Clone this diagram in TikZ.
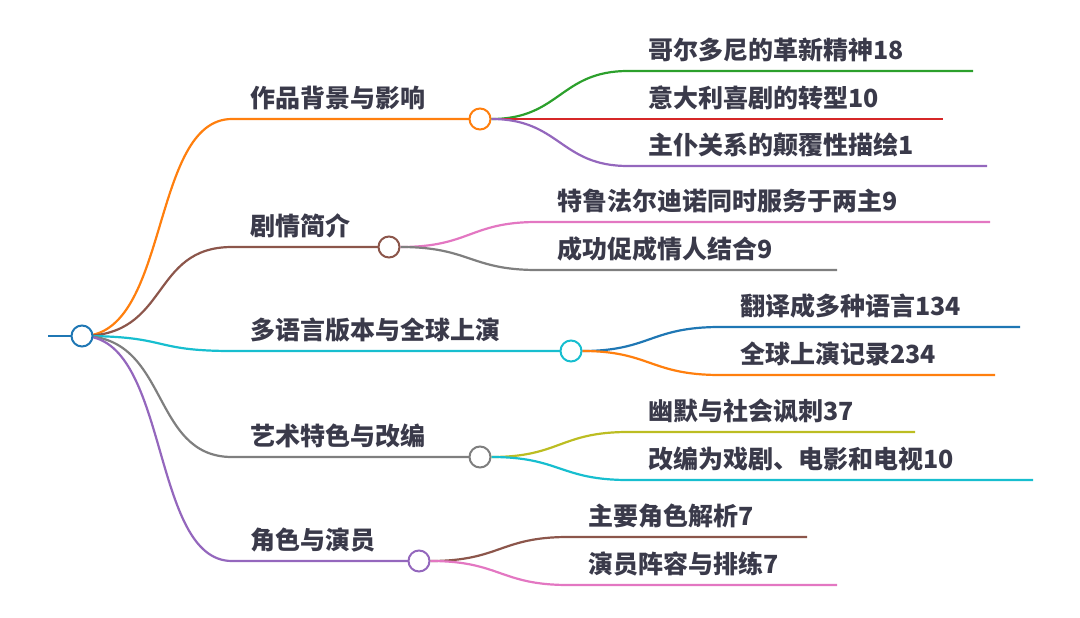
\documentclass[tikz,border=0pt]{standalone}
\usepackage{fontspec}
\setmainfont{Noto Sans CJK SC}[BoldFont={* Black}]
\usetikzlibrary{positioning}
\definecolor{tblue}{HTML}{1F77B4}
\definecolor{torange}{HTML}{FF7F0E}
\definecolor{tgreen}{HTML}{2CA02C}
\definecolor{tred}{HTML}{D62728}
\definecolor{tpurple}{HTML}{9467BD}
\definecolor{tbrown}{HTML}{8C564B}
\definecolor{tpink}{HTML}{E377C2}
\definecolor{tgray}{HTML}{7F7F7F}
\definecolor{tolive}{HTML}{BCBD22}
\definecolor{tcyan}{HTML}{17BECF}
\definecolor{txt}{HTML}{3A3A4A}
\tikzstyle{hub} = [circle, draw, fill=white, line width=2pt, minimum size=21pt, inner sep=0pt]
\tikzstyle{topic} = [anchor=south west, inner sep=0pt, text=txt, font=\bfseries\fontsize{25}{27}\selectfont]
\tikzstyle{edge} = [line width=2.2pt]

\begin{document}
\begin{tikzpicture}[x=1pt, y=-1pt]
    \useasboundingbox (0,0) rectangle (1080,618);
    % root
    \coordinate (in) at (48,336);
    \draw [edge, tblue] (in) -- (82,336);

    % first level
    \coordinate (s1) at (232,119);
    \coordinate (s2) at (232,247);
    \coordinate (s3) at (232,351);
    \coordinate (s4) at (232,457);
    \coordinate (s5) at (232,561);
    \draw [edge, torange] (82,336) .. controls (170,336) and (150,119) .. (s1) -- (480,119);
    \draw [edge, tbrown] (82,336) .. controls (170,336) and (150,247) .. (s2) -- (389,247);
    \draw [edge, tcyan] (82,336) .. controls (170,336) and (150,351) .. (s3) -- (571,351);
    \draw [edge, tgray] (82,336) .. controls (170,336) and (150,457) .. (s4) -- (480,457);
    \draw [edge, tpurple] (82,336) .. controls (170,336) and (150,561) .. (s5) -- (419,561);
    \node (root) [hub, draw=tblue] at (82,336) {};
    \node (b1) [hub, draw=torange] at (480,119) {};
    \node (b2) [hub, draw=tbrown] at (389,247) {};
    \node (b3) [hub, draw=tcyan] at (571,351) {};
    \node (b4) [hub, draw=tgray] at (480,457) {};
    \node (b5) [hub, draw=tpurple] at (419,561) {};
    \node (t1) [topic] at (250,110) {作品背景与影响};
    \node (t2) [topic] at (250,238) {剧情简介};
    \node (t3) [topic] at (250,342) {多语言版本与全球上演};
    \node (t4) [topic] at (250,448) {艺术特色与改编};
    \node (t5) [topic] at (250,552) {角色与演员};

    % second level
    \coordinate (c11) at (628,71);  \coordinate (e11) at (973,71);
    \coordinate (c12) at (628,119); \coordinate (e12) at (943,119);
    \coordinate (c13) at (628,166); \coordinate (e13) at (987,166);
    \coordinate (c21) at (537,222); \coordinate (e21) at (990,222);
    \coordinate (c22) at (537,270); \coordinate (e22) at (837,270);
    \coordinate (c31) at (720,327); \coordinate (e31) at (1020,327);
    \coordinate (c32) at (720,375); \coordinate (e32) at (995,375);
    \coordinate (c41) at (628,432); \coordinate (e41) at (915,432);
    \coordinate (c42) at (628,480); \coordinate (e42) at (1033,480);
    \coordinate (c51) at (568,537); \coordinate (e51) at (807,537);
    \coordinate (c52) at (568,585); \coordinate (e52) at (837,585);
    \node (l11) [topic] at (648,62) {哥尔多尼的革新精神18};
    \node (l12) [topic] at (648,110) {意大利喜剧的转型10};
    \node (l13) [topic] at (648,157) {主仆关系的颠覆性描绘1};
    \node (l21) [topic] at (557,213) {特鲁法尔迪诺同时服务于两主9};
    \node (l22) [topic] at (557,261) {成功促成情人结合9};
    \node (l31) [topic] at (740,318) {翻译成多种语言134};
    \node (l32) [topic] at (740,366) {全球上演记录234};
    \node (l41) [topic] at (648,423) {幽默与社会讽刺37};
    \node (l42) [topic] at (648,471) {改编为戏剧、电影和电视10};
    \node (l51) [topic] at (588,528) {主要角色解析7};
    \node (l52) [topic] at (588,576) {演员阵容与排练7};
    \draw [edge, tgreen] (b1) .. controls (560,119) and (560,71) .. (c11) -- (e11);
    \draw [edge, tred] (b1) -- (e12);
    \draw [edge, tpurple] (b1) .. controls (560,119) and (560,166) .. (c13) -- (e13);
    \draw [edge, tpink] (b2) .. controls (470,247) and (470,222) .. (c21) -- (e21);
    \draw [edge, tgray] (b2) .. controls (470,247) and (470,270) .. (c22) -- (e22);
    \draw [edge, tblue] (b3) .. controls (650,351) and (650,327) .. (c31) -- (e31);
    \draw [edge, torange] (b3) .. controls (650,351) and (650,375) .. (c32) -- (e32);
    \draw [edge, tolive] (b4) .. controls (560,457) and (560,432) .. (c41) -- (e41);
    \draw [edge, tcyan] (b4) .. controls (560,457) and (560,480) .. (c42) -- (e42);
    \draw [edge, tbrown] (b5) .. controls (500,561) and (500,537) .. (c51) -- (e51);
    \draw [edge, tpink] (b5) .. controls (500,561) and (500,585) .. (c52) -- (e52);
\end{tikzpicture}
\end{document}
